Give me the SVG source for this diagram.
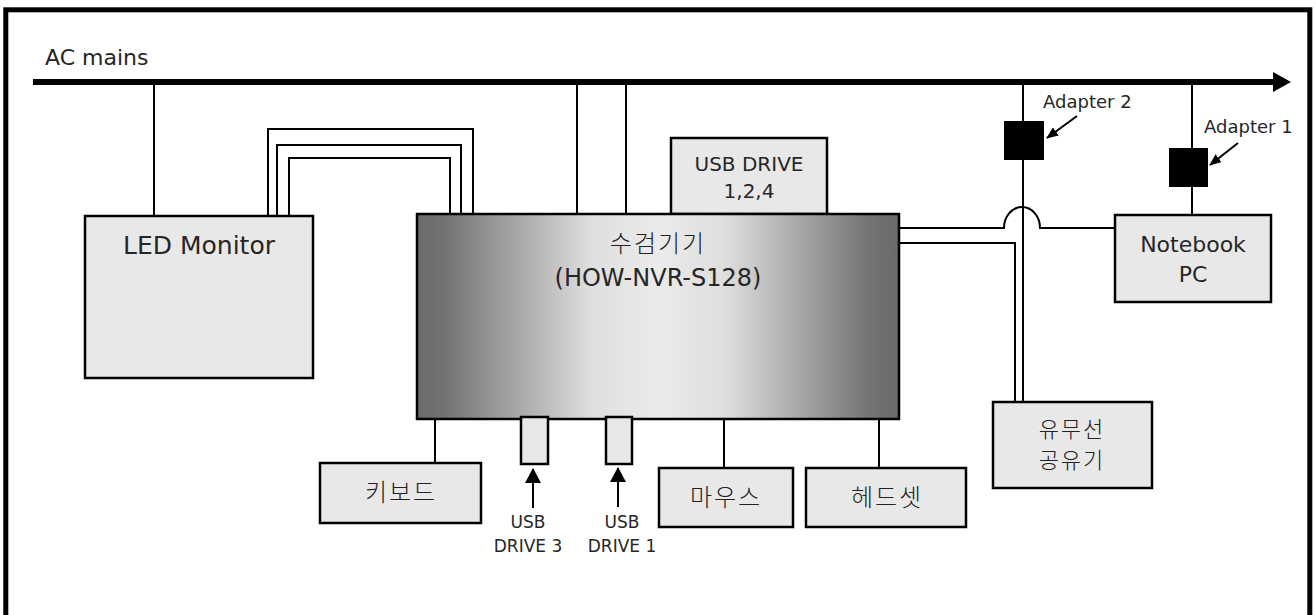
<svg xmlns="http://www.w3.org/2000/svg" width="1316" height="615" viewBox="0 0 1316 615">
  <defs>
    <linearGradient id="nvrGrad" x1="0" y1="0" x2="1" y2="0">
      <stop offset="0" stop-color="#6a6a6a"/>
      <stop offset="0.06" stop-color="#737373"/>
      <stop offset="0.36" stop-color="#dedede"/>
      <stop offset="0.5" stop-color="#ebebeb"/>
      <stop offset="0.64" stop-color="#dedede"/>
      <stop offset="0.94" stop-color="#737373"/>
      <stop offset="1" stop-color="#6a6a6a"/>
    </linearGradient>
    <marker id="arrowSmall" viewBox="0 0 12 10" refX="11" refY="5" markerWidth="12" markerHeight="10" markerUnits="userSpaceOnUse" orient="auto">
      <path d="M0,0 L12,5 L0,10 Z" fill="#000"/>
    </marker>
    <marker id="arrowUp" viewBox="0 0 15 16" refX="14" refY="8" markerWidth="15" markerHeight="16" markerUnits="userSpaceOnUse" orient="auto">
      <path d="M0,0 L15,8 L0,16 Z" fill="#000"/>
    </marker>
  </defs>
  <style>
    .box { fill: #e8e8e8; stroke: #000; stroke-width: 2.5; }
    .wire { fill: none; stroke: #000; stroke-width: 2; }
    .lbl { font-family: "DejaVu Sans", "Noto Sans CJK KR", sans-serif; fill: #262626; text-anchor: middle; }
    .kr { font-family: "Noto Sans CJK KR", "DejaVu Sans", sans-serif; font-weight: 300; fill: #222; text-anchor: middle; letter-spacing: 2px; }
  </style>

  <rect id="frame" x="5.8" y="9.8" width="1304" height="700" fill="#fff" stroke="#000" stroke-width="5"/>

  <g id="connectors">
    <line x1="33" y1="82" x2="1276" y2="82" stroke="#000" stroke-width="6"/>
    <path d="M1273,72 L1291,82 L1273,92 Z" fill="#000"/>
    <line class="wire" x1="154" y1="85" x2="154" y2="216"/>
    <path class="wire" d="M268,216 V129 H473 V214"/>
    <path class="wire" d="M277,216 V145 H461 V214"/>
    <path class="wire" d="M289,216 V158 H450 V214"/>
    <line class="wire" x1="577" y1="85" x2="577" y2="214"/>
    <line class="wire" x1="626" y1="85" x2="626" y2="214"/>
    <line class="wire" x1="1023" y1="85" x2="1023" y2="402"/>
    <line class="wire" x1="1192" y1="85" x2="1192" y2="215"/>
    <path class="wire" d="M899,228 H1004 A18,21 0 0 1 1040,228 H1115"/>
    <path class="wire" d="M899,243 H1015 V402"/>
    <line class="wire" x1="435" y1="419" x2="435" y2="463"/>
    <line class="wire" x1="724" y1="419" x2="724" y2="468"/>
    <line class="wire" x1="879" y1="419" x2="879" y2="468"/>
    <line class="wire" x1="533" y1="508" x2="533" y2="469" marker-end="url(#arrowUp)"/>
    <line class="wire" x1="618" y1="507" x2="618" y2="468" marker-end="url(#arrowUp)"/>
    <line class="wire" x1="1077" y1="116" x2="1047" y2="138" marker-end="url(#arrowSmall)"/>
    <line class="wire" x1="1238" y1="143" x2="1210" y2="165" marker-end="url(#arrowSmall)"/>
  </g>

  <text id="ac-mains" class="lbl" x="45" y="65" font-size="22" style="text-anchor:start">AC mains</text>

  <g id="led-monitor">
    <rect class="box" x="85" y="216" width="228" height="162"/>
    <text class="lbl" x="199" y="254" font-size="25">LED Monitor</text>
  </g>

  <g id="usb-drive-124">
    <rect class="box" x="671" y="138" width="156" height="76"/>
    <text class="lbl" x="749" y="171" font-size="20">USB DRIVE</text>
    <text class="lbl" x="749" y="198" font-size="20">1,2,4</text>
  </g>

  <g id="nvr">
    <rect x="417" y="214" width="482" height="205" fill="url(#nvrGrad)" stroke="#000" stroke-width="2.5"/>
    <text class="kr" x="658" y="252" font-size="24">수검기기</text>
    <text class="lbl" x="658" y="286" font-size="24">(HOW-NVR-S128)</text>
  </g>

  <g id="usb-slot-3">
    <rect class="box" x="521" y="417" width="27" height="47"/>
  </g>
  <g id="usb-slot-1">
    <rect class="box" x="606" y="417" width="26" height="47"/>
  </g>

  <g id="usb-drive-3-label">
    <text class="lbl" x="528" y="528" font-size="17">USB</text>
    <text class="lbl" x="528" y="552" font-size="17">DRIVE 3</text>
  </g>
  <g id="usb-drive-1-label">
    <text class="lbl" x="622" y="528" font-size="17">USB</text>
    <text class="lbl" x="622" y="552" font-size="17">DRIVE 1</text>
  </g>

  <g id="keyboard">
    <rect class="box" x="320" y="463" width="161" height="60"/>
    <text class="kr" x="401" y="501" font-size="24">키보드</text>
  </g>

  <g id="mouse">
    <rect class="box" x="659" y="468" width="134" height="59"/>
    <text class="kr" x="726" y="506" font-size="24">마우스</text>
  </g>

  <g id="headset">
    <rect class="box" x="806" y="468" width="160" height="59"/>
    <text class="kr" x="887" y="506" font-size="24">헤드셋</text>
  </g>

  <g id="router">
    <rect class="box" x="993" y="402" width="159" height="86"/>
    <text class="kr" x="1072" y="437" font-size="22">유무선</text>
    <text class="kr" x="1072" y="468" font-size="22">공유기</text>
  </g>

  <g id="notebook">
    <rect class="box" x="1115" y="215" width="156" height="87"/>
    <text class="lbl" x="1193" y="252" font-size="22">Notebook</text>
    <text class="lbl" x="1193" y="282" font-size="22">PC</text>
  </g>

  <g id="adapter-2">
    <rect x="1004" y="121" width="40" height="39" fill="#000"/>
    <text class="lbl" x="1043" y="108" font-size="18" style="text-anchor:start">Adapter 2</text>
  </g>

  <g id="adapter-1">
    <rect x="1169" y="148" width="39" height="39" fill="#000"/>
    <text class="lbl" x="1204" y="133" font-size="18" style="text-anchor:start">Adapter 1</text>
  </g>
</svg>
